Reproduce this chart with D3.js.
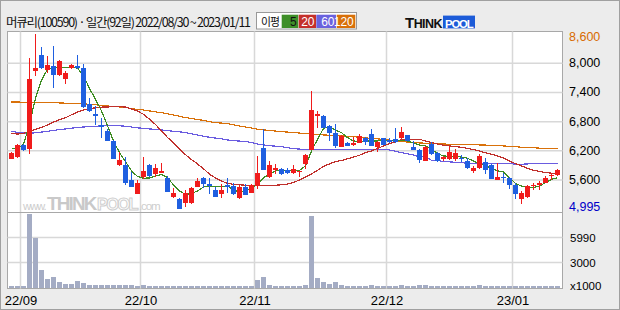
<!DOCTYPE html>
<html><head><meta charset="utf-8">
<script src="https://cdn.jsdelivr.net/npm/d3@7/dist/d3.min.js"></script>
<style>body{margin:0;background:#ececec;}svg{display:block}</style>
</head><body><svg id="c" width="620" height="310"></svg>
<script>
const titleText = "머큐리(100590) · 일간(92일) 2022/08/30 ~ 2023/01/11";
const legendTitle = "이평";
const maLabels = ["5","20","60","120"];
const monthIdx = [2,22,41,63,84];
const monthLabels = ["22/09","22/10","22/11","22/12","23/01"];
const priceTicks = [8600,8000,7400,6800,6200,5600,4995];
const priceGrid = [8000,7400,6800,6200,5600];
const priceMin = 4995, priceMax = 8600;
const volTicks = [5990,3000];
const volMax = 8985;

const opens = [6040,6080,6310,6230,7850,8170,7870,7945,7755,7685, 7897,7938,7897,7170,6950,6725,6615,6402,5910,5900, 5600,5320,5670,5909,5730,5745,5648,5257,5209,5135, 5120,5463,5648,5510,5400,5320,5497,5477,5237,5463, 5340,5477,6265,5669,5820,5833,5806,5751,5765,5922, 6217,6917,6917,6711,6570,6287,6370,6321,6370,6459, 6541,6287,6459,6424,6444,6471,6520,6287,6218,5999, 6342,6150,6050,6027,6027,6060,5991,5785,5854,5970, 5909,5607,5669,5648,5497,5202,5257,5477,5504,5545, 5682,5696];
const highs = [6175,6330,6350,8103,8600,8340,8150,8345,8060,7840, 7993,8171,7979,7294,7122,6882,6642,6416,6180,6073, 5765,5590,6073,5920,5936,5950,5682,5443,5230,5387, 5455,5648,5662,5648,5456,5524,5648,5545,5497,5511, 5510,6094,6642,5991,5922,5850,5850,5902,5790,6142, 7431,7019,6930,6740,6745,6520,6390,6480,6540,6480, 6650,6404,6470,6459,6664,6697,6530,6404,6230,6300, 6390,6180,6100,6287,6231,6114,6059,5888,6142,6059, 5920,5943,5751,5669,5545,5374,5497,5545,5580,5682, 5751,5833];
const lows = [6030,6060,6200,6142,7740,7880,7790,7500,7745,7570, 7877,7890,7088,6992,6725,6457,6395,6025,5880,5490, 5455,5305,5614,5670,5662,5735,5350,5237,4995,5045, 5110,5450,5443,5305,5240,5237,5333,5291,5216,5290, 5335,5408,5799,5648,5730,5710,5730,5730,5669,5820, 6210,6677,6660,6410,6250,6280,6300,6300,6360,6321, 6290,6183,6310,6370,6370,6444,6400,6210,5945,5990, 6108,5965,5990,6020,5991,5977,5830,5751,5820,5730, 5620,5600,5545,5422,5202,5113,5237,5387,5387,5540, 5593,5690];
const closes = [6160,6310,6220,7670,7910,7910,7965,7755,8048,7800, 7966,7897,7100,7013,6925,6680,6409,6039,6005,5540, 5463,5545,5785,5675,5847,5785,5360,5333,5010,5333, 5436,5580,5511,5495,5257,5395,5456,5312,5463,5298, 5497,5744,5813,5902,5840,5730,5751,5833,5785,6114, 7040,6951,6677,6560,6300,6506,6307,6369,6506,6383, 6300,6383,6321,6383,6376,6588,6404,6218,6013,6274, 6136,6000,6065,6177,6155,6025,5840,5854,6094,5800, 5627,5669,5634,5490,5305,5326,5477,5497,5545,5648, 5703,5799];
const volumes = [180,200,190,8780,5960,2110,1040,1310,680,440, 440,800,560,320,330,310,320,320,330,320, 320,200,320,200,200,200,200,200,200,200, 200,200,200,200,200,200,200,200,200,200, 200,920,1310,320,200,200,200,200,200,320, 8540,1190,715,440,715,320,200,200,200,200, 320,200,200,200,250,320,200,200,320,320, 200,200,200,200,200,200,200,200,320,200, 200,200,200,200,200,200,200,200,200,200, 200,200];
const ma5 = [6253,6253,6330,6750,7280,7650,7880,7918,7918,7918, 7918,7900,7750,7480,7260,7020,6715,6400,6160,5975, 5790,5670,5637,5640,5680,5715,5648,5497,5374,5305, 5319,5374,5456,5477,5463,5463,5477,5387,5360,5374, 5443,5511,5648,5717,5785,5799,5799,5785,5799,5888, 6197,6437,6663,6697,6622,6574,6471,6402,6389,6402, 6402,6402,6416,6416,6416,6416,6402,6361,6320,6300, 6231,6142,6094,6087,6080,6073,6046,5991,5936,5888, 5840,5785,5771,5648,5525,5477,5456,5443,5477,5545, 5614,5648];
const ma20 = [6555,6545,6560,6600,6640,6680,6730,6790,6840,6880, 6940,7000,7040,7065,7085,7098,7102,7105,7106,7100, 7060,7020,6950,6850,6740,6610,6475,6360,6240,6120, 6020,5930,5830,5720,5640,5580,5530,5510,5500,5493, 5493,5493,5493,5493,5493,5500,5515,5550,5600,5660, 5725,5800,5880,5930,5980,6000,6035,6070,6110,6160, 6198,6250,6300,6345,6390,6430,6438,6438,6438,6400, 6369,6340,6315,6300,6290,6270,6250,6225,6195,6160, 6130,6095,6050,5990,5937,5890,5840,5800,5775,5752, 5740,5731];
const ma60 = [6600,6580,6565,6562,6570,6585,6600,6620,6635,6650, 6665,6677,6690,6697,6705,6712,6718,6718,6715,6705, 6690,6672,6664,6650,6640,6630,6615,6600,6590,6575, 6550,6525,6500,6479,6462,6445,6424,6410,6400,6395, 6370,6340,6320,6305,6295,6285,6265,6245,6235,6228, 6222,6220,6222,6225,6228,6232,6232,6232,6232,6232, 6232,6232,6225,6218,6190,6163,6140,6115,6075,6075, 6006,6006,5972,5972,5965,5955,5945,5940,5940,5940, 5940,5940,5940,5940,5924,5924,5930,5940,5945,5945, 5945,5945];
const ma120 = [7205,7203,7200,7198,7195,7193,7190,7188,7185,7180, 7175,7170,7165,7157,7148,7135,7122,7110,7102,7090, 7070,7050,7040,7020,7000,6985,6960,6935,6910,6883, 6865,6845,6825,6800,6780,6770,6760,6735,6710,6690, 6670,6644,6630,6618,6605,6595,6585,6574,6565,6555, 6545,6535,6527,6520,6515,6510,6500,6490,6478,6465, 6455,6445,6432,6418,6405,6390,6380,6370,6362,6355, 6349,6345,6340,6335,6333,6330,6327,6324,6321,6318, 6312,6306,6300,6292,6285,6274,6268,6262,6255,6250, 6245,6240];

const maColors = ["#3d8c22","#c0302c","#6a5ce0","#d9710a"];
const legendColors = ["#3f8f29","#c4302b","#6a62de","#d8700a"];
const upColor = "#f01c1c", downColor = "#1f5fe0", volColor = "#a4acc4";
const numFont = "'Liberation Sans', Arial, sans-serif";
const krFont = "'Noto Sans CJK KR', 'Noto Sans', sans-serif";

// shrink a text to a target width: tighten letter spacing, then the size if needed
function fit(sel, target, maxTight) {
  const node = sel.node();
  const nch = node.textContent.length;
  let w = node.getComputedTextLength();
  if (w <= target) return;
  const fs = parseFloat(sel.attr("font-size")) || 12;
  const ls = Math.max((target - w) / nch, -(maxTight || 0.09) * fs);
  sel.attr("letter-spacing", ls.toFixed(2));
  w = node.getComputedTextLength();
  if (w > target && sel.attr("font-size")) sel.attr("font-size", (fs * target / w).toFixed(2));
}

const svg = d3.select("#c");
const W = 620, H = 310;
const L = 7.5, R = 562.5, T = 31.5, B = 288.5, SEP = 212.5;

svg.append("rect").attr("width", W).attr("height", H).attr("fill", "#ececec");
svg.append("rect").attr("x", 0.5).attr("y", 0.5).attr("width", W-1).attr("height", H-1)
  .attr("fill", "none").attr("stroke", "#a0a0a0");

const n = closes.length;
const xs = d3.scaleLinear().domain([0, n]).range([8.5, 8.5 + 6*n]);
const y = d3.scaleLinear().domain([priceMin, priceMax]).range([209.4, 34.1]);
const yv = d3.scaleLinear().domain([0, volMax]).range([287.8, 212.4]);

// plot panes
svg.append("rect").attr("x", L).attr("y", T).attr("width", R-L).attr("height", B-T)
  .attr("fill", "#fff").attr("stroke", "#a8a8a8");

// grid
const grid = svg.append("g").attr("stroke", "#d8d8d8").attr("stroke-width", 1.5);
grid.selectAll(".hg").data(priceGrid).join("line")
  .attr("x1", L).attr("x2", R).attr("y1", d => y(d)).attr("y2", d => y(d));
grid.selectAll(".vg").data(volTicks).join("line")
  .attr("x1", L).attr("x2", R).attr("y1", d => yv(d)).attr("y2", d => yv(d));
grid.selectAll(".mg").data(monthIdx).join("line")
  .attr("x1", d => xs(d)).attr("x2", d => xs(d)).attr("y1", T).attr("y2", B);

// watermark
const wm = svg.append("g").attr("font-family", numFont);
fit(wm.append("text").attr("x", 23).attr("y", 210).attr("font-size", 13).attr("fill", "#cdcdcd").text("www."), 23);
fit(wm.append("text").attr("x", 47).attr("y", 210).attr("font-size", 20).attr("font-weight", "bold")
  .attr("fill", "#c9c9c9").text("THINK"), 49);
fit(wm.append("text").attr("x", 97).attr("y", 210).attr("font-size", 20).attr("font-weight", "bold")
  .attr("fill", "#fff").attr("stroke", "#cfcfcf").attr("stroke-width", 1).text("POOL"), 41);
fit(wm.append("text").attr("x", 139).attr("y", 210).attr("font-size", 13).attr("fill", "#cdcdcd").text(".com"), 21);

// separator
svg.append("line").attr("x1", L).attr("x2", R).attr("y1", SEP).attr("y2", SEP)
  .attr("stroke", "#a8a8a8");

// moving averages
const mas = [ma5, ma20, ma60, ma120];
const line = d3.line().x((d, i) => xs(i + 0.5)).y(d => y(d));
const maG = svg.append("g").attr("fill", "none").attr("shape-rendering", "crispEdges");
[3,2,1,0].forEach(k => {
  maG.append("path").attr("d", line(mas[k])).attr("stroke", maColors[k]).attr("stroke-width", 1.2);
});

// candles
const idx = d3.range(n);
const cg = svg.append("g").attr("shape-rendering", "crispEdges");
cg.selectAll(".w").data(idx).join("rect")
  .attr("x", i => xs(i) + 2.5).attr("width", 1)
  .attr("y", i => y(highs[i])).attr("height", i => Math.max(1, y(lows[i]) - y(highs[i])))
  .attr("fill", i => closes[i] >= opens[i] ? upColor : downColor);
cg.selectAll(".b").data(idx).join("rect")
  .attr("x", i => xs(i) + 0.5).attr("width", 5)
  .attr("y", i => y(Math.max(opens[i], closes[i])))
  .attr("height", i => Math.max(1.5, Math.abs(y(opens[i]) - y(closes[i]))))
  .attr("fill", i => closes[i] >= opens[i] ? upColor : downColor);

// volume
svg.append("g").attr("shape-rendering", "crispEdges").selectAll("rect").data(idx).join("rect")
  .attr("x", i => xs(i) + 0.5).attr("width", 5)
  .attr("y", i => yv(volumes[i])).attr("height", i => yv(0) - yv(volumes[i]))
  .attr("fill", volColor);

// right price axis
const ay = svg.append("g").attr("transform", "translate(569,0)")
  .call(d3.axisRight(y).tickValues(priceTicks).tickFormat(d3.format(",")).tickSize(0).tickPadding(0));
ay.select(".domain").remove();
ay.selectAll(".tick").attr("transform", d => `translate(0,${Math.min(206.7, Math.max(37.3, y(d)))})`);
ay.selectAll("text").attr("font-family", numFont).attr("font-size", 12.5)
  .attr("fill", d => d === priceMax ? "#d86a00" : d === priceMin ? "#0000c8" : "#000");

// volume axis
const av = svg.append("g").attr("transform", "translate(570,0)")
  .call(d3.axisRight(yv).tickValues(volTicks).tickFormat(d3.format("d")).tickSize(0).tickPadding(0));
av.select(".domain").remove();
av.selectAll("text").attr("font-family", numFont).attr("font-size", 11.5).attr("fill", "#000");
svg.append("text").attr("x", 570).attr("y", 290).attr("font-family", numFont)
  .attr("font-size", 11.5).attr("fill", "#000").text("x1000");

// bottom axis
const ax = svg.append("g").attr("transform", `translate(0,${B})`)
  .call(d3.axisBottom(xs).tickValues(monthIdx).tickFormat((d, i) => monthLabels[i]).tickSize(0).tickPadding(7));
ax.select(".domain").remove();
ax.selectAll("text").attr("font-family", numFont).attr("font-size", 13).attr("fill", "#000");

// header
fit(svg.append("text").attr("x", 6).attr("y", 26.5).attr("font-family", krFont).attr("font-size", 12.5)
  .attr("fill", "#111").text(titleText), 244, 0.12);

// legend
svg.append("rect").attr("x", 256.5).attr("y", 12.5).attr("width", 100).attr("height", 16.5)
  .attr("fill", "#fff").attr("stroke", "#999");
fit(svg.append("text").attr("x", 261).attr("y", 26).attr("font-family", krFont).attr("font-size", 12)
  .attr("fill", "#111").text(legendTitle), 18);
const lb = [[281.7,298.3],[298.7,316],[316.3,336],[336.7,355.3]];
lb.forEach((b, k) => {
  svg.append("rect").attr("x", b[0]).attr("y", 14.7).attr("width", b[1]-b[0]).attr("height", 13.3)
    .attr("fill", legendColors[k]);
  svg.append("text").attr("x", b[1]-1.5).attr("y", 26).attr("text-anchor", "end")
    .attr("font-family", numFont).attr("font-size", 12)
    .attr("fill", k === 0 ? "#111" : "#fff").text(maLabels[k]);
});

// logo
const lg = svg.append("g").attr("font-family", numFont).attr("font-weight", "bold");
const t = lg.append("text").attr("x", 405).attr("y", 28.3).attr("fill", "#111");
t.append("tspan").attr("font-size", 15).text("T");
t.append("tspan").attr("font-size", 12.5).text("HINK");
fit(t, 37);
lg.append("rect").attr("x", 443).attr("y", 15.6).attr("width", 32).attr("height", 12.8).attr("fill", "#1c5bd8");
fit(lg.append("text").attr("x", 445).attr("y", 27.6).attr("font-size", 13)
  .attr("fill", "#fff").text("POOL"), 28);
</script></body></html>
